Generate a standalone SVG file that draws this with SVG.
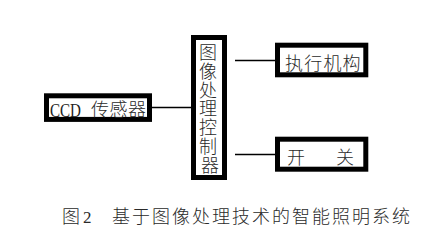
<svg xmlns="http://www.w3.org/2000/svg" width="433" height="236" viewBox="0 0 433 236">
<style>
.box{fill:#fff;stroke:#000;stroke-width:5}
.t{font-family:"Liberation Serif","Noto Sans CJK SC",serif;fill:#222;font-size:18px}
.cj{font-family:"Noto Sans CJK SC",sans-serif;fill:#2a2a2a;font-weight:300}
.ln{stroke:#000;stroke-width:1.4;fill:none}
</style>
<rect width="433" height="236" fill="#fff"/>
<g id="connectors">
<line class="ln" x1="152" y1="107.5" x2="191" y2="107.5"/>
<line class="ln" x1="235" y1="60.5" x2="275" y2="60.5"/>
<line class="ln" x1="235" y1="154.5" x2="275" y2="154.5"/>
</g>
<g id="ccd">
<rect class="box" x="46.5" y="95.8" width="103" height="23.6"/>
<text class="t" x="50" y="117" font-size="17" textLength="31" lengthAdjust="spacingAndGlyphs">CCD</text>
<text class="t cj" x="91" y="116" font-size="18" letter-spacing="0.5">传感器</text>
</g>
<g id="controller">
<rect class="box" x="193.5" y="37.5" width="31" height="140"/>
<text class="t cj" text-anchor="middle" font-size="17.5">
<tspan x="210" y="59">图</tspan>
<tspan x="210" y="77.8">像</tspan>
<tspan x="210" y="96.6">处</tspan>
<tspan x="210" y="115.4">理</tspan>
<tspan x="210" y="134.2">控</tspan>
<tspan x="210" y="153">制</tspan>
<tspan x="210" y="171.8">器</tspan>
</text>
<rect x="191" y="175" width="36" height="5" fill="#000"/>
</g>
<g id="actuator">
<rect class="box" x="277.5" y="45.2" width="88.3" height="29.6"/>
<text class="t cj" x="285" y="70" font-size="18" letter-spacing="1.2">执行机构</text>
</g>
<g id="switch">
<rect class="box" x="277.5" y="139.2" width="88.3" height="30"/>
<text class="t cj" x="287" y="164" font-size="18">开</text>
<text class="t cj" x="336" y="164" font-size="18">关</text>
</g>
<g id="caption" class="t cj" font-size="17" fill="#333">
<text x="62" y="223">图</text>
<text x="83" y="223" font-family="Liberation Serif" font-size="17">2</text>
<text x="112" y="223" letter-spacing="2">基于图像处理技术的智能照明系统</text>
</g>
</svg>
